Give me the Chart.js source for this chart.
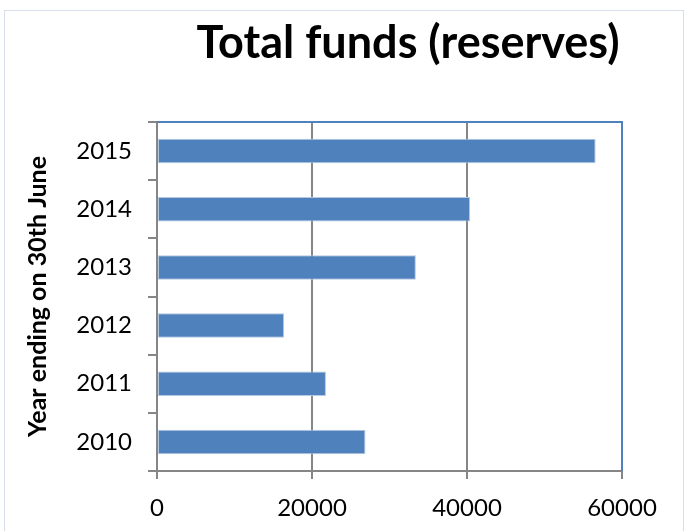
<!DOCTYPE html>
<html>
<head>
<meta charset="utf-8">
<script src="https://cdn.jsdelivr.net/npm/chart.js@4"></script>
<style>
  html, body { margin: 0; padding: 0; background: #fff; }
  canvas { display: block; }
</style>
</head>
<body>
<canvas id="chart" width="686" height="531"></canvas>
<script>
const years = ["2015", "2014", "2013", "2012", "2011", "2010"];
const reserves = [56600, 40400, 33400, 16400, 21800, 26900];
const xTicks = [0, 20000, 40000, 60000];

const chartTitle = "Total funds (reserves)";
const yTitle = "Year ending on 30th June";

const barBlue = "#4F81BD";
const axisGray = "#868686";
const fontName = "Lato";

// outer frame, heading, and the blue top/right edges of the plot
const framePlugin = {
  id: "frame",
  beforeDraw(chart) {
    const ctx = chart.ctx;
    ctx.save();
    ctx.strokeStyle = "#D6DFEA";
    ctx.lineWidth = 1;
    ctx.strokeRect(4.5, 10.5, chart.width - 7, chart.height);
    ctx.fillStyle = "#000";
    ctx.font = "bold 45px " + fontName;
    ctx.textAlign = "center";
    ctx.textBaseline = "alphabetic";
    ctx.fillText(chartTitle, 408, 58);
    ctx.restore();
  },
  afterDatasetsDraw(chart) {
    const a = chart.chartArea;
    const ctx = chart.ctx;
    ctx.save();
    ctx.strokeStyle = barBlue;
    ctx.lineWidth = 2;
    ctx.beginPath();
    ctx.moveTo(a.left, a.top);
    ctx.lineTo(a.right, a.top);
    ctx.lineTo(a.right, a.bottom);
    ctx.stroke();
    ctx.restore();
  }
};

new Chart(document.getElementById("chart").getContext("2d"), {
  type: "bar",
  data: {
    labels: years,
    datasets: [{
      label: "Total funds",
      data: reserves,
      backgroundColor: barBlue,
      borderColor: "#B3C8E2",
      borderWidth: 1,
      borderSkipped: false,
      barPercentage: 0.42,
      categoryPercentage: 1
    }]
  },
  options: {
    indexAxis: "y",
    responsive: false,
    animation: false,
    layout: { padding: { top: 122, left: 4, right: 64, bottom: 0 } },
    plugins: {
      legend: { display: false },
      tooltip: { enabled: false }
    },
    scales: {
      x: {
        min: 0,
        max: 60000,
        afterBuildTicks(scale) {
          scale.ticks = xTicks.map(v => ({ value: v }));
        },
        afterFit(scale) {
          scale.height = 60;
        },
        grid: {
          color: axisGray,
          lineWidth: 2,
          tickLength: 8,
          tickColor: axisGray
        },
        border: { color: axisGray, width: 2 },
        ticks: {
          color: "#000",
          font: { family: fontName, size: 24 },
          padding: 15,
          maxRotation: 0,
          callback: v => String(v)
        }
      },
      y: {
        afterFit(scale) {
          scale.width = 153;
        },
        grid: {
          drawOnChartArea: false,
          color: axisGray,
          lineWidth: 2,
          tickLength: 9
        },
        border: { color: axisGray, width: 2 },
        ticks: {
          color: "#000",
          font: { family: fontName, size: 24 },
          padding: 16
        },
        title: {
          display: true,
          text: yTitle,
          color: "#000",
          font: { family: fontName, size: 25, weight: "bold" },
          padding: { top: 19, bottom: 0 }
        }
      }
    }
  },
  plugins: [framePlugin]
});
</script>
</body>
</html>
